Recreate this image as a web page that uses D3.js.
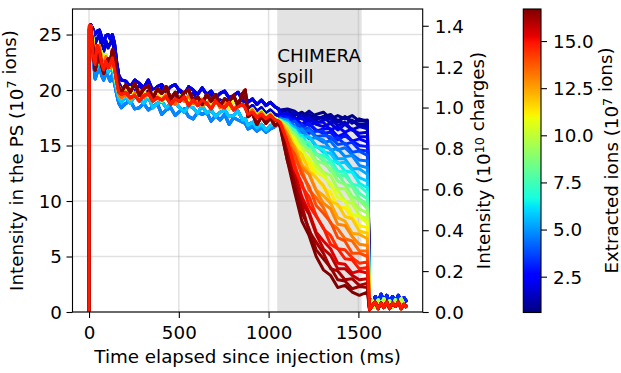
<!DOCTYPE html>
<html>
<head>
<meta charset="utf-8">
<script src="https://cdn.jsdelivr.net/npm/d3@7"></script>
<style>
	body { margin: 0; background: #fff; }
	svg { display: block; font-family: "DejaVu Sans", sans-serif; }
</style>
</head>
<body>
<svg id="chart" width="621" height="373"></svg>
<script>
// ---- data ----

// before the spill (ms)
const preTimes = [0, 2, 10, 22, 34, 46, 58, 70, 82, 94, 106, 118, 130, 142, 154, 166, 180,
	205, 230, 255, 280, 305, 330, 355, 380, 405, 430, 455, 480, 505, 530, 555, 580, 605, 630, 655, 680, 705, 730, 755, 780, 805, 830, 855,
	870, 885, 910, 935, 960, 985, 1010, 1035, 1055];

// the band of shots before the spill (10^7 ions)
const preBlueTop = [0, 25.4, 25.9, 25.5, 25.0, 25.3, 25.4, 24.8, 24.3, 24.9, 25.0, 24.6, 25.0, 24.2, 22.5, 21.3, 20.9,
	20.8, 20.3, 20.9, 20.6, 20.2, 20.9, 19.9, 20.3, 20.5, 19.9, 20.3, 20.5, 19.9, 19.6, 20.3, 20.0, 19.6, 20.2, 19.6, 19.9, 19.3, 19.7, 19.9, 19.3, 19.5, 19.8, 19.1,
	19.5, 18.9, 19.2, 18.7, 19.1, 18.6, 18.9, 18.5, 18.3];
const preBlueLow = [0, 25.0, 25.3, 23.0, 21.0, 21.6, 22.4, 21.3, 20.9, 21.8, 21.2, 20.8, 21.4, 20.6, 19.6, 18.8, 18.4,
	18.8, 19.0, 18.3, 18.4, 18.8, 18.2, 18.5, 18.8, 17.8, 18.2, 18.4, 17.7, 18.1, 18.3, 17.6, 17.4, 18.0, 17.8, 18.0, 17.2, 17.7, 17.3, 17.8, 16.9, 17.5, 17.3, 17.1,
	17.0, 16.5, 16.7, 16.3, 16.6, 16.2, 16.5, 16.7, 17.0];
const preRed = [0, 25.8, 25.8, 23.2, 22.3, 24.0, 23.5, 22.4, 21.8, 22.6, 22.0, 22.4, 22.9, 21.9, 20.8, 19.8, 19.6,
	19.8, 19.3, 19.5, 19.0, 19.5, 19.7, 19.0, 19.3, 19.1, 19.4, 18.7, 19.2, 19.0, 19.4, 18.6, 19.1, 18.6, 19.1, 18.8, 18.3, 19.0, 18.6, 18.4, 18.9, 18.2, 18.5, 18.7,
	18.4, 17.8, 18.0, 17.5, 17.8, 17.4, 17.7, 17.3, 17.2];
const preDarkRed = [0, 25.5, 25.6, 23.8, 21.8, 22.6, 23.4, 22.2, 21.5, 22.3, 22.8, 22.5, 23.6, 23.0, 21.4, 20.2, 19.8,
	20.5, 19.8, 20.6, 19.5, 20.1, 20.4, 19.2, 20.1, 19.7, 20.3, 19.2, 19.8, 19.0, 19.8, 20.0, 19.1, 19.4, 18.7, 19.6, 19.0, 19.6, 18.6, 19.2, 19.0, 19.5, 18.6, 19.7,
	20.0, 17.6, 17.9, 16.9, 17.6, 17.0, 17.5, 16.8, 17.0];
const preMid = [0, 25.7, 25.8, 24.6, 22.8, 22.4, 23.8, 23.4, 22.4, 23.2, 22.0, 22.9, 22.2, 21.6, 20.4, 20.3, 19.9,
	19.9, 20.2, 19.4, 19.6, 19.9, 19.4, 19.7, 20.0, 19.0, 19.4, 19.6, 19.0, 19.4, 19.6, 19.0, 18.7, 19.4, 19.1, 19.4, 18.6, 19.1, 18.7, 19.2, 18.3, 19.0, 18.8, 18.6,
	18.6, 18.0, 18.3, 17.7, 18.1, 17.6, 17.9, 17.4, 17.3];
const preBlueMid = [0, 25.6, 25.7, 25.1, 24.2, 24.6, 25.0, 24.0, 23.5, 24.4, 23.8, 24.2, 24.5, 23.5, 21.8, 20.6, 20.2,
	19.8, 20.2, 19.9, 20.4, 19.5, 19.9, 20.1, 19.6, 20.2, 19.8, 19.3, 19.5, 20.0, 19.7, 19.2, 19.7, 19.3, 18.9, 19.5, 19.6, 19.0, 19.1, 18.8, 19.3, 19.2, 18.6, 19.0,
	19.0, 18.3, 18.6, 18.1, 18.4, 17.9, 18.2, 17.8, 17.7];
const preCyan = [0, 25.2, 25.5, 23.8, 21.9, 22.0, 23.0, 22.1, 21.5, 22.4, 21.6, 21.9, 22.0, 21.0, 20.0, 19.2, 18.9,
	19.4, 18.8, 19.5, 19.1, 18.8, 19.4, 18.4, 18.8, 19.0, 18.4, 18.8, 18.9, 18.4, 18.0, 18.6, 18.4, 17.9, 18.6, 17.9, 18.2, 17.6, 18.0, 18.2, 17.6, 17.7, 18.1, 17.3,
	17.4, 16.8, 17.1, 16.6, 16.9, 16.4, 16.8, 16.9, 17.2];
const preOrange = [0, 25.6, 25.7, 24.2, 22.5, 23.3, 24.0, 22.8, 22.1, 23.0, 22.4, 22.0, 22.6, 22.1, 20.6, 19.6, 19.3,
	19.6, 19.2, 19.7, 20.0, 19.3, 19.7, 19.1, 19.4, 19.1, 19.6, 19.2, 18.7, 19.4, 19.0, 19.5, 18.8, 19.1, 18.6, 18.8, 19.1, 19.2, 18.4, 18.8, 18.8, 18.2, 18.8, 18.7,
	18.7, 17.9, 18.2, 17.6, 18.0, 17.4, 17.8, 17.3, 17.2];
const preProfiles = [preBlueTop, preBlueLow, preRed, preDarkRed, preMid, preBlueMid, preCyan, preOrange];

// during the CHIMERA spill (ms)
const spillTimes = [1065, 1105, 1145, 1185, 1225, 1265, 1305, 1345, 1385, 1425, 1465, 1505, 1550];

// after the spill (ms)
const tailTimes = [1562, 1578, 1594, 1610, 1626, 1642, 1658, 1674, 1690, 1706, 1722, 1738, 1754, 1770];
const tailHigh = [1.2, 0.6, 1.4, 0.9, 1.6, 1.0, 1.5, 0.8, 1.4, 0.9, 1.5, 1.0, 1.3, 0.9];
const tailMid = [0.5, 1.0, 0.4, 1.1, 0.6, 1.2, 0.5, 1.0, 0.4, 1.1, 0.6, 1.2, 0.7, 0.5];
const tailLow = [0.2, 0.6, 0.9, 0.3, 0.8, 0.4, 0.9, 0.3, 0.8, 0.5, 0.9, 0.3, 0.7, 0.4];
const tailProfiles = [tailHigh, tailMid, tailLow];

// one entry per shot, in plotting order
const extracted = [0.6, 0.8, 1.0, 1.2, 1.5, 1.8, 2.1, 2.5, 2.9, 3.3, 3.8, 4.3, 4.8, 5.3, 5.8, 6.4, 7.0, 7.6,
	8.2, 8.8, 9.4, 10.0, 10.6, 11.2, 11.8, 12.4, 13.0, 13.5, 14.0, 14.5, 15.4, 15.8, 16.1, 16.4, 16.7, 14.8];
const preProfileOf = [0, 5, 0, 5, 0, 5, 0, 6, 1, 6, 1, 6, 1, 6, 6, 4, 4, 7, 4, 7, 4, 7, 4, 7, 2, 7, 2, 7, 3, 2, 2, 3, 3, 3, 3, 2];
const tailProfileOf = [0, 0, 0, 1, 0, 1, 0, 0, 1, 0, 1, 1, 1, 1, 1, 1, 1, 1, 1, 1, 2, 1, 2, 2, 2, 2, 2, 2, 2, 2, 2, 2, 2, 2, 2, 2];
const spillValues = [
	[18.0, 18.2, 17.7, 18.0, 17.5, 17.8, 18.0, 17.4, 17.7, 17.4, 17.7, 17.2, 17.3],
	[17.8, 17.5, 18.0, 17.6, 17.8, 17.3, 17.6, 17.8, 17.2, 17.6, 17.0, 17.4, 17.2],
	[18.2, 18.3, 18.1, 17.6, 18.1, 17.6, 17.4, 17.7, 17.1, 17.6, 17.2, 16.9, 17.0],
	[17.7, 17.9, 17.3, 17.7, 17.1, 17.4, 17.6, 17.0, 17.3, 16.9, 17.3, 16.7, 16.8],
	[17.9, 17.6, 18.0, 17.4, 17.6, 17.0, 17.3, 17.4, 16.8, 17.1, 16.4, 16.7, 16.5],
	[17.6, 17.7, 17.5, 16.9, 17.4, 16.9, 16.7, 17.0, 16.4, 16.9, 16.4, 16.1, 16.2],
	[17.8, 17.9, 17.3, 17.5, 16.8, 17.1, 17.1, 16.4, 16.7, 16.2, 16.5, 15.8, 15.8],
	[17.5, 17.1, 17.4, 16.8, 17.0, 16.3, 16.5, 16.5, 15.8, 16.1, 15.4, 15.6, 15.3],
	[17.6, 17.6, 17.2, 16.6, 17.0, 16.4, 16.1, 16.2, 15.5, 15.9, 15.4, 15.0, 14.9],
	[17.4, 17.4, 16.7, 16.9, 16.1, 16.3, 16.3, 15.5, 15.7, 15.1, 15.3, 14.6, 14.5],
	[17.5, 17.0, 17.2, 16.5, 16.6, 15.8, 15.9, 15.8, 15.1, 15.2, 14.4, 14.5, 14.1],
	[17.3, 17.2, 16.8, 16.1, 16.4, 15.7, 15.3, 15.4, 14.6, 14.8, 14.2, 13.7, 13.6],
	[17.4, 17.3, 16.4, 16.5, 15.6, 15.7, 15.5, 14.6, 14.7, 14.0, 14.1, 13.2, 13.0],
	[17.2, 16.6, 16.7, 15.9, 15.8, 14.9, 14.9, 14.7, 13.8, 13.8, 12.9, 12.9, 12.4],
	[17.3, 17.1, 16.5, 15.7, 15.8, 15.0, 14.4, 14.3, 13.4, 13.5, 12.8, 12.1, 11.8],
	[17.2, 17.0, 16.0, 15.9, 14.9, 14.9, 14.6, 13.6, 13.5, 12.7, 12.6, 11.6, 11.2],
	[17.1, 16.4, 16.4, 15.4, 15.2, 14.2, 14.1, 13.7, 12.7, 12.6, 11.5, 11.4, 10.7],
	[17.3, 16.9, 16.3, 15.3, 15.3, 14.3, 13.6, 13.4, 12.3, 12.3, 11.5, 10.7, 10.2],
	[17.2, 16.9, 15.8, 15.6, 14.4, 14.2, 13.8, 12.7, 12.5, 11.5, 11.3, 10.2, 9.7],
	[17.1, 16.3, 16.1, 15.1, 14.7, 13.6, 13.4, 12.9, 11.8, 11.5, 10.4, 10.1, 9.3],
	[17.2, 16.7, 15.8, 14.7, 14.5, 13.4, 12.6, 12.3, 11.1, 11.1, 10.1, 9.3, 8.9],
	[17.1, 16.5, 15.2, 14.8, 13.5, 13.1, 12.5, 11.3, 11.0, 10.0, 9.8, 8.7, 8.4],
	[17.2, 16.1, 15.7, 14.4, 13.9, 12.6, 12.2, 11.6, 10.3, 10.0, 8.8, 8.6, 8.0],
	[17.1, 16.2, 15.1, 13.8, 13.4, 12.1, 11.2, 10.8, 9.5, 9.4, 8.5, 7.8, 7.6],
	[17.2, 16.4, 14.8, 14.2, 12.7, 12.1, 11.4, 10.0, 9.7, 8.6, 8.4, 7.3, 7.1],
	[17.0, 15.6, 14.9, 13.3, 12.5, 11.0, 10.5, 9.8, 8.5, 8.2, 7.1, 7.0, 6.6],
	[17.1, 16.0, 14.6, 13.0, 12.4, 10.9, 9.8, 9.3, 7.9, 7.8, 6.8, 6.1, 6.0],
	[17.0, 15.7, 13.8, 12.8, 11.0, 10.3, 9.4, 8.0, 7.5, 6.6, 6.4, 5.5, 5.5],
	[17.1, 15.2, 14.2, 12.4, 11.3, 9.6, 8.9, 8.1, 6.7, 6.4, 5.3, 5.3, 5.0],
	[17.0, 15.2, 13.3, 11.3, 10.4, 8.7, 7.5, 6.9, 5.7, 5.6, 4.9, 4.4, 4.5],
	[16.9, 14.3, 12.7, 10.4, 9.0, 7.2, 6.4, 5.7, 4.4, 4.3, 3.5, 3.7, 3.5],
	[16.8, 14.5, 12.2, 9.9, 8.8, 7.0, 5.7, 5.1, 3.9, 3.9, 3.3, 2.9, 3.0],
	[16.8, 14.3, 11.3, 9.6, 7.3, 6.3, 5.3, 3.9, 3.7, 2.9, 3.0, 2.4, 2.6],
	[16.7, 13.6, 11.6, 9.0, 7.5, 5.6, 4.8, 4.0, 2.9, 2.8, 2.1, 2.3, 2.2],
	[16.6, 13.6, 10.8, 8.2, 6.9, 5.0, 3.8, 3.3, 2.2, 2.4, 1.8, 1.5, 1.8],
	[17.0, 15.3, 12.9, 11.6, 9.6, 8.6, 7.6, 6.1, 5.7, 4.8, 4.7, 3.9, 4.0]
];

const spill = [1048, 1518];
const xTicks = [0, 500, 1000, 1500];
const yTicks = [0, 5, 10, 15, 20, 25];
const chargeTicks = [0, 0.2, 0.4, 0.6, 0.8, 1.0, 1.2, 1.4];
const colorTicks = [2.5, 5.0, 7.5, 10.0, 12.5, 15.0];

// ---- layout ----
const plot = { left: 72.5, right: 422.7, top: 9, bottom: 312 };
const cbar = { left: 523.3, right: 541, top: 9, bottom: 312.5 };
const fontSize = 18.3;
const black = '#000';

const svg = d3.select('#chart');

const x = d3.scaleLinear().domain([-92, 1858]).range([plot.left, plot.right]);
const y = d3.scaleLinear().domain([0, 27.3]).range([plot.bottom, plot.top]);
const yCharges = d3.scaleLinear().domain([0, 1.482]).range([plot.bottom, plot.top]);

// matplotlib "jet"
const jetR = d3.scaleLinear().domain([0, 0.35, 0.66, 0.89, 1]).range([0, 0, 1, 1, 0.5]).clamp(true);
const jetG = d3.scaleLinear().domain([0, 0.125, 0.375, 0.64, 0.91, 1]).range([0, 0, 1, 1, 0, 0]).clamp(true);
const jetB = d3.scaleLinear().domain([0, 0.11, 0.34, 0.65, 1]).range([0.5, 1, 1, 0, 0]).clamp(true);
const jet = t => d3.rgb(jetR(t) * 255, jetG(t) * 255, jetB(t) * 255).formatHex();

const norm = d3.scaleLinear().domain(d3.extent(extracted)).range([0, 1]).clamp(true);
const cScale = d3.scaleLinear().domain(d3.extent(extracted)).range([cbar.bottom, cbar.top]);

const traces = extracted.map((e, i) => ({
	e,
	points: [
		...preProfiles[preProfileOf[i]].map((v, k) => [preTimes[k], v]),
		...spillValues[i].map((v, k) => [spillTimes[k], v]),
		...tailProfiles[tailProfileOf[i]].map((v, k) => [tailTimes[k], v])
	]
}));

const defs = svg.append('defs');
defs.append('clipPath').attr('id', 'plot-clip')
	.append('rect')
	.attr('x', plot.left).attr('y', plot.top)
	.attr('width', plot.right - plot.left).attr('height', plot.bottom - plot.top);

// shaded spill window
svg.append('rect')
	.attr('x', x(spill[0]))
	.attr('y', plot.top)
	.attr('width', x(spill[1]) - x(spill[0]))
	.attr('height', plot.bottom - plot.top)
	.attr('fill', '#808080')
	.attr('fill-opacity', 0.22);

// grid
const grid = svg.append('g').attr('stroke', 'rgb(176,176,176)').attr('stroke-opacity', 0.38).attr('stroke-width', 1.5);
grid.selectAll('.gx').data(xTicks).enter().append('line')
	.attr('x1', d => x(d)).attr('x2', d => x(d))
	.attr('y1', plot.top).attr('y2', plot.bottom);
grid.selectAll('.gy').data(yTicks).enter().append('line')
	.attr('x1', plot.left).attr('x2', plot.right)
	.attr('y1', d => y(d)).attr('y2', d => y(d));

// traces
const line = d3.line().x(d => x(d[0])).y(d => y(d[1]));
svg.append('g')
	.attr('clip-path', 'url(#plot-clip)')
	.selectAll('path')
	.data(traces)
	.enter()
	.append('path')
	.attr('d', d => line(d.points))
	.attr('fill', 'none')
	.attr('stroke', d => jet(norm(d.e)))
	.attr('stroke-width', 3)
	.attr('stroke-linejoin', 'round')
	.attr('stroke-linecap', 'butt');

// CHIMERA label
const note = svg.append('text')
	.attr('font-size', fontSize)
	.attr('fill', black);
note.append('tspan').attr('x', x(spill[0])).attr('y', 62).text('CHIMERA');
note.append('tspan').attr('x', x(spill[0])).attr('y', 83).text('spill');

// axes
const styleAxis = g => {
	g.attr('font-size', fontSize).attr('font-family', '"DejaVu Sans", sans-serif');
	g.select('.domain').remove();
	g.selectAll('.tick line').attr('stroke', black).attr('stroke-width', 1.1);
	g.selectAll('.tick text').attr('fill', black);
};

svg.append('g')
	.attr('transform', `translate(0,${plot.bottom})`)
	.call(d3.axisBottom(x).tickValues(xTicks).tickSize(6).tickPadding(8.5).tickFormat(d3.format('d')))
	.call(styleAxis);

svg.append('g')
	.attr('transform', `translate(${plot.left},0)`)
	.call(d3.axisLeft(y).tickValues(yTicks).tickSize(6).tickPadding(4.5).tickFormat(d3.format('d')))
	.call(styleAxis)
	.call(g => g.selectAll('.tick text').attr('dy', '0.35em'));

svg.append('g')
	.attr('transform', `translate(${plot.right},0)`)
	.call(d3.axisRight(yCharges).tickValues(chargeTicks).tickSize(6).tickPadding(6).tickFormat(d3.format('.1f')))
	.call(styleAxis)
	.call(g => g.selectAll('.tick text').attr('dy', '0.35em'));

// frame
svg.append('rect')
	.attr('x', plot.left).attr('y', plot.top)
	.attr('width', plot.right - plot.left).attr('height', plot.bottom - plot.top)
	.attr('fill', 'none').attr('stroke', black).attr('stroke-width', 1.1);

// colorbar
const grad = defs.append('linearGradient')
	.attr('id', 'jet-grad')
	.attr('x1', 0).attr('y1', 1).attr('x2', 0).attr('y2', 0);
grad.selectAll('stop')
	.data(d3.range(0, 1.0001, 0.01))
	.enter()
	.append('stop')
	.attr('offset', d => d)
	.attr('stop-color', d => jet(d));

svg.append('rect')
	.attr('x', cbar.left).attr('y', cbar.top)
	.attr('width', cbar.right - cbar.left).attr('height', cbar.bottom - cbar.top)
	.attr('fill', 'url(#jet-grad)')
	.attr('stroke', black).attr('stroke-width', 1.1);

svg.append('g')
	.attr('transform', `translate(${cbar.right},0)`)
	.call(d3.axisRight(cScale).tickValues(colorTicks).tickSize(6).tickPadding(6).tickFormat(d3.format('.1f')))
	.call(styleAxis)
	.call(g => g.selectAll('.tick text').attr('dy', '0.35em'));

// axis titles, with a raised exponent
const title = (tx, ty, rotate, parts) => {
	const t = svg.append('text')
		.attr('transform', `translate(${tx},${ty})` + (rotate ? ' rotate(-90)' : ''))
		.attr('text-anchor', 'middle')
		.attr('font-size', fontSize)
		.attr('fill', black);
	parts.forEach(([str, sup]) => {
		if (sup) {
			t.append('tspan').attr('font-size', fontSize * 0.7).attr('dy', -6.5).text(str);
			t.append('tspan').attr('dy', 6.5).text('');
		} else {
			t.append('tspan').text(str);
		}
	});
	return t;
};

title((plot.left + plot.right) / 2, 363, false, [['Time elapsed since injection (ms)']]);
title(22.5, (plot.top + plot.bottom) / 2, true, [['Intensity in the PS (10'], ['7', true], [' ions)']]);
title(490, (plot.top + plot.bottom) / 2, true, [['Intensity (10'], ['10', true], [' charges)']]);
title(618, (plot.top + plot.bottom) / 2, true, [['Extracted ions (10'], ['7', true], [' ions)']]);
</script>
</body>
</html>
